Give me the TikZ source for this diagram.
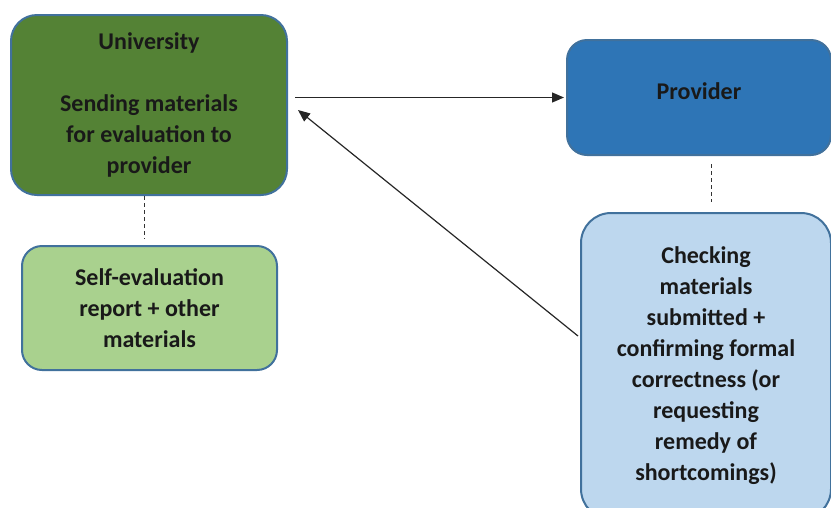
\documentclass[tikz,border=0pt]{standalone}
\usepackage{fontspec}
\setmainfont{Carlito}
\usetikzlibrary{arrows.meta,calc}
\definecolor{dkgreen}{HTML}{548235}
\definecolor{ltgreen}{HTML}{A9D18E}
\definecolor{dkblue}{HTML}{2E75B6}
\definecolor{ltblue}{HTML}{BDD7EE}
\definecolor{edgeblue}{HTML}{41719C}
\tikzset{
  box/.style={draw=edgeblue, line width=2pt, align=center, inner sep=0pt,
    font=\fontsize{24}{31}\selectfont\bfseries, text=black!90},
  arr/.style={draw=black!85, line width=1.2pt, -{Triangle[length=12pt,width=10pt]}},
  dsh/.style={draw=black!80, line width=1pt, dash pattern=on 4pt off 3pt}
}
\begin{document}
\begin{tikzpicture}[x=1pt,y=-1pt]
\useasboundingbox (0,0) rectangle (831,507);
\node[box, fill=dkgreen, rounded corners=26pt, minimum width=276pt, minimum height=180pt]
  (univ) at (149,105) {University\\\mbox{}\\Sending materials\\for evaluation to\\provider};
\node[box, fill=ltgreen, rounded corners=20pt, minimum width=255pt, minimum height=124pt]
  (self) at (149.5,308) {Self-evaluation\\report + other\\materials};
\node[box, fill=dkblue, rounded corners=20pt, minimum width=264pt, minimum height=115pt, text depth=12pt]
  (prov) at (699,97.5) {Provider};
\node[box, fill=ltblue, rounded corners=30pt, minimum width=250pt, minimum height=306pt]
  (check) at (706,366) {Checking\\materials\\submitted +\\confirming formal\\correctness (or\\requesting\\remedy of\\shortcomings)};
\draw[arr, shorten >=2pt] ([xshift=7pt]univ.east |- prov.west) -- (prov.west);
\draw[arr] ([shift={(-2pt,30pt)}]check.west) -- ([shift={(10pt,-5pt)}]univ.east);
\draw[dsh, shorten >=6pt] ([xshift=-5pt]univ.south) -- ([xshift=-5pt]univ.south |- self.north);
\draw[dsh, shorten <=8pt, shorten >=10pt] ([xshift=12pt]prov.south) -- ([xshift=12pt]prov.south |- check.north);
\end{tikzpicture}
\end{document}
